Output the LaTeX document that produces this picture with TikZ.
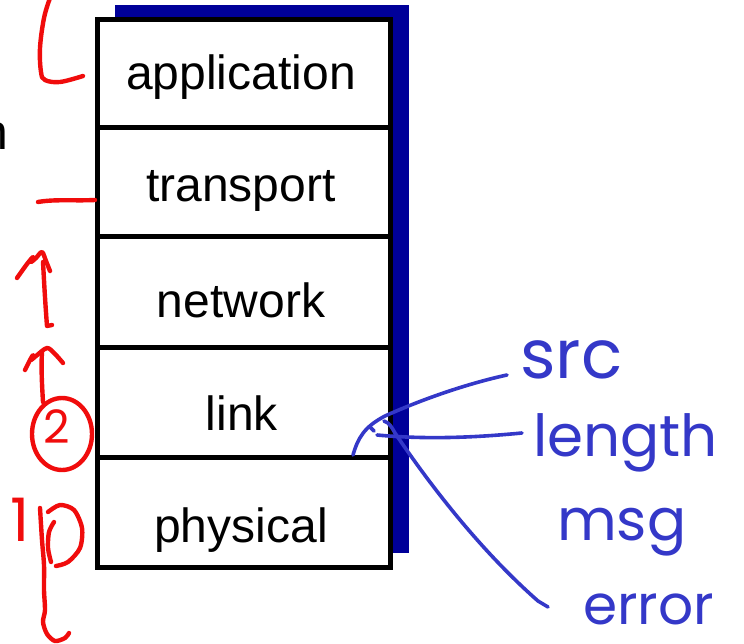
\documentclass[tikz,border=0pt]{standalone}
\usepackage{fontspec}
\setmainfont{Liberation Sans}
\newfontfamily\handfont{Poppins}
\definecolor{shadowblue}{RGB}{0,0,153}
\definecolor{penblue}{RGB}{52,56,200}
\definecolor{penred}{RGB}{240,12,12}
\begin{document}
\begin{tikzpicture}[x=1pt,y=-1pt,
  layer/.style={draw=black,line width=5pt,fill=white,minimum width=293.5pt,inner sep=0pt},
  layertext/.style={anchor=base,inner sep=0pt,font=\fontsize{48}{56}\selectfont},
  blueink/.style={draw=penblue,line width=3.6pt,line cap=round,line join=round},
  redink/.style={draw=penred,line width=4.4pt,line cap=round,line join=round},
  bluehand/.style={text=penblue,inner sep=0pt,anchor=base west,font=\handfont\fontsize{#1}{#1}\selectfont},
  redhand/.style={text=penred,inner sep=0pt,font=\handfont\fontsize{#1}{#1}\selectfont}]
\useasboundingbox (0,0) rectangle (744,644);

% shadow behind the protocol stack
\fill[shadowblue] (115,5) rectangle (409,553);

% the five layers
\node[layer,minimum height=108pt] (app)   at (243.75,73.5)  {};
\node[layer,minimum height=109pt] (trans) at (243.75,182)   {};
\node[layer,minimum height=111pt] (net)   at (243.75,292)   {};
\node[layer,minimum height=110pt] (lnk)   at (243.75,402.5) {};
\node[layer,minimum height=110pt] (phys)  at (243.75,512.5) {};

\node[layertext] (appT)   at (241,90)  {application};
\node[layertext] (transT) at (241,202) {transport};
\node[layertext] (netT)   at (241,317) {network};
\node[layertext] (lnkT)   at (242,430) {link};
\node[layertext] (physT)  at (241,542) {physical};

% word cut by the left edge
\node[anchor=base west,inner sep=0pt,font=\fontsize{50}{58}\selectfont] (cut) at (-19.5,150) {n};

% red pen marks on the left
\draw[redink] plot[smooth,tension=0.6] coordinates {(50,-2) (44,18) (40,48) (41,72) (45,80) (60,82) (83,76)};
\draw[redink] (38,202) .. controls (55,199) and (75,201) .. (95,200);
\draw[redink] (52,325) -- (47,326) .. controls (45,300) and (44,280) .. (43,262);
\draw[redink] plot[smooth,tension=0.5] coordinates {(17,278) (27,264) (33,257) (31,262) (36,258) (42,252) (46,261) (50,271)};
\draw[redink] (43,402) .. controls (42,385) and (41,368) .. (42,352);
\draw[redink] plot[smooth,tension=0.5] coordinates {(25,370) (30,360) (33,355) (31,360) (36,356) (47,348) (55,354) (63,363)};
\draw[redink] (62,434) ellipse [x radius=30pt,y radius=36pt];
\node[redhand=46] (two) at (57,427) {2};
\node[redhand=60] (one) at (20,520) {1};
\draw[redink] plot[smooth] coordinates {(40,508) (42,540) (44,565) (44,590) (45,610) (43,622) (47,634) (55,641) (65,638) (69,633)};
\draw[redink] plot[smooth] coordinates {(48,512) (60,505) (74,510) (82,528) (80,548) (68,562) (56,566)};
\draw[redink] plot[smooth] coordinates {(54,522) (49,532) (48,548) (51,562)};

% blue notes on the link layer
\node[bluehand=68] (src)    at (520,378) {src};
\node[bluehand=58] (length) at (533,456) {length};
\node[bluehand=58] (msg)    at (557,540) {msg};
\node[bluehand=55] (error)  at (583,624) {error};

\coordinate (srcfoot) at (353,455);
\coordinate (lenfoot) at (377,435);
\coordinate (errfoot) at (384,421);
\draw[blueink] (srcfoot) .. controls (358,438) and (364,427) .. (385,416)
  .. controls (425,398) and (470,383) .. ([shift={(-13,-3)}]src.base west);
\draw[blueink] (lenfoot) .. controls (430,440) and (480,437) .. ([shift={(-11,-23)}]length.base west);
\draw[blueink] (errfoot) .. controls (390,423) and (392,428) .. (395,433)
  .. controls (430,485) and (480,550) .. (538,601) -- ([shift={(-35,-17)}]error.base west);
\draw[blueink] (370,427) -- (374,431);
\end{tikzpicture}
\end{document}
